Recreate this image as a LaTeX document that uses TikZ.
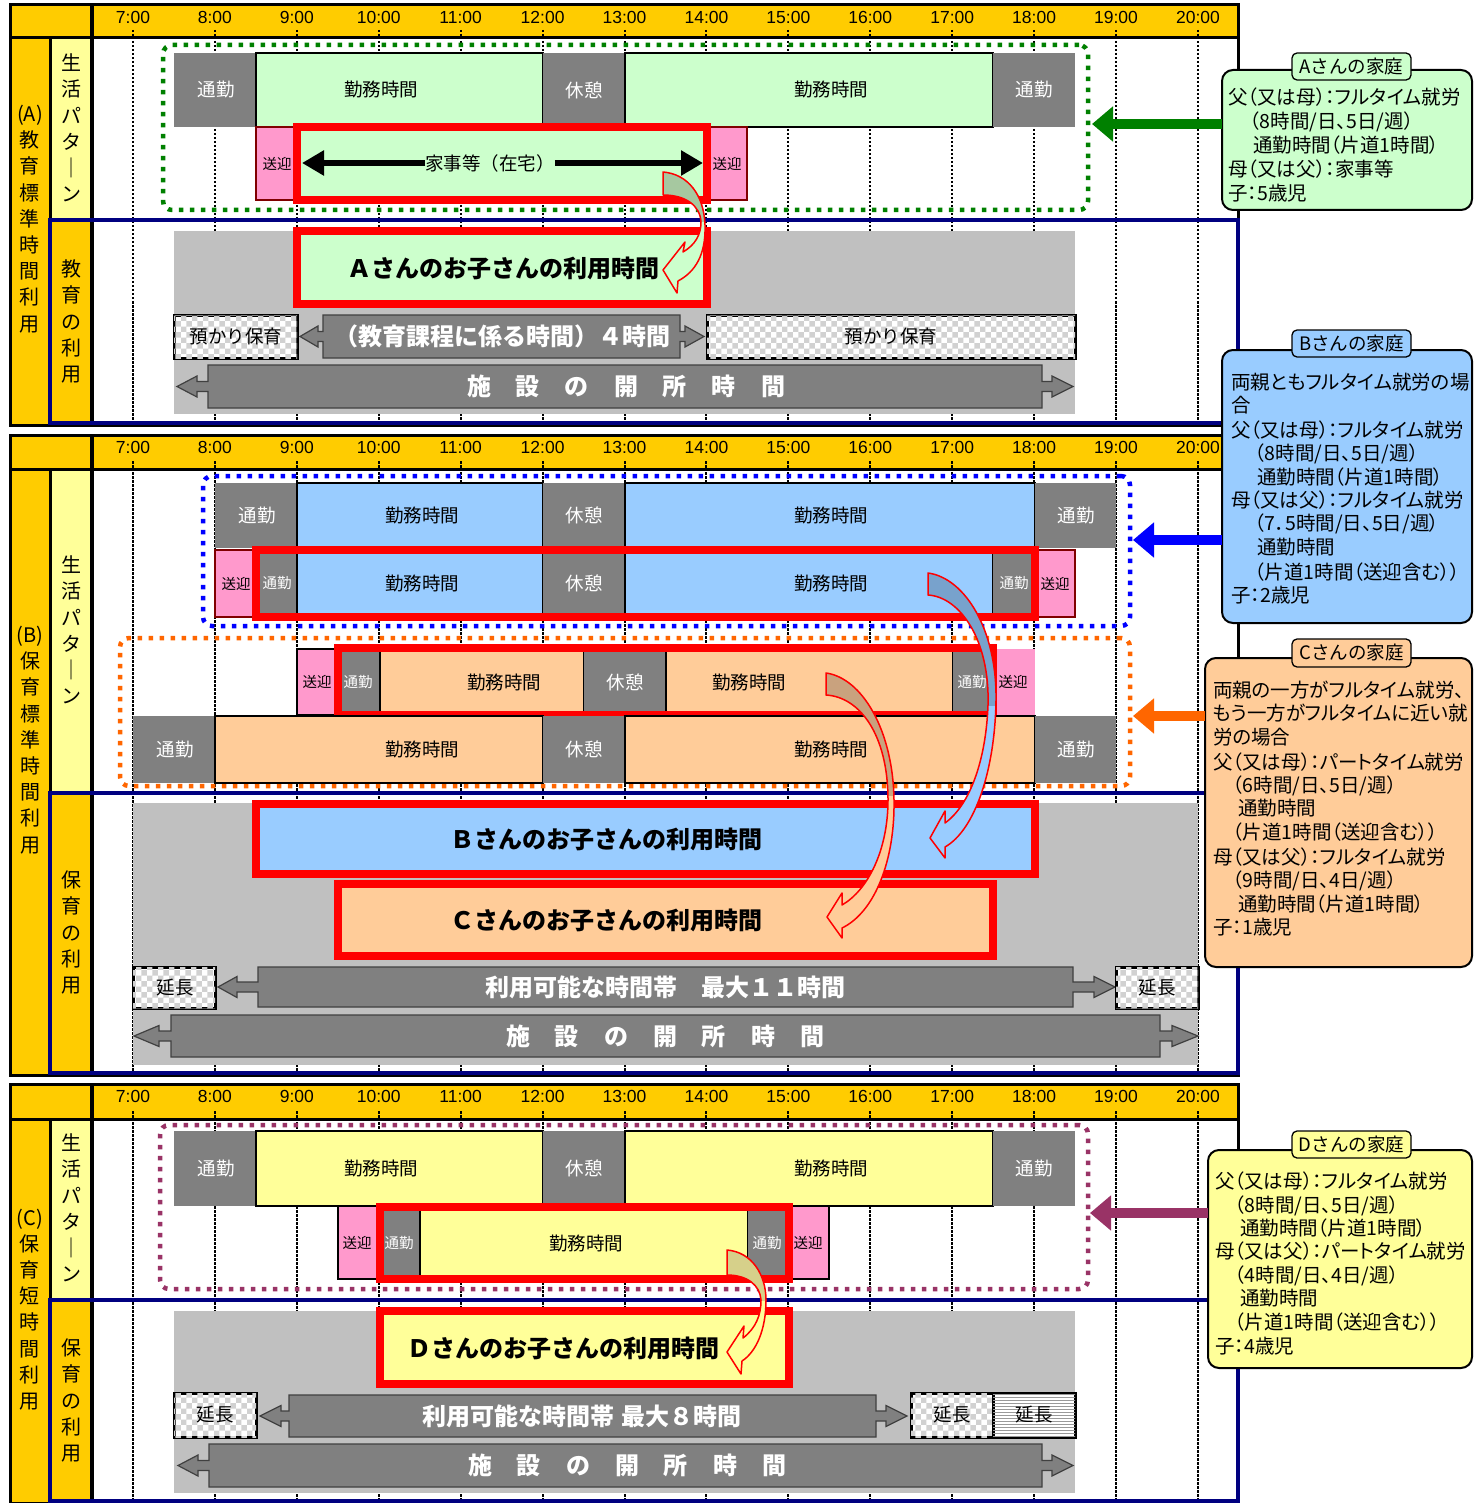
\documentclass[tikz,border=0pt]{standalone}
\usepackage{fontspec}
\setmainfont{Noto Sans CJK JP}
\newfontfamily\jpp{Noto Sans CJK JP}[RawFeature=+palt]
\newfontfamily\lat{Liberation Sans}
\usetikzlibrary{arrows.meta,patterns}
\newcommand\fsz[1]{\fontsize{#1}{#1}\selectfont}
\newcommand\gp{\hspace{25pt}}
\definecolor{hdr}{HTML}{FFCC00}
\definecolor{lyel}{HTML}{FFFF99}
\definecolor{gbx}{HTML}{808080}
\definecolor{lgrn}{HTML}{CCFFCC}
\definecolor{lblu}{HTML}{99CCFF}
\definecolor{lorg}{HTML}{FFCC99}
\definecolor{pnk}{HTML}{FF99CC}
\definecolor{dred}{HTML}{800000}
\definecolor{bgg}{HTML}{C0C0C0}
\definecolor{navy}{HTML}{000080}
\definecolor{rred}{HTML}{FF0000}
\definecolor{dgrn}{HTML}{008000}
\definecolor{bblu}{HTML}{0000FF}
\definecolor{oorg}{HTML}{FF6600}
\definecolor{purp}{HTML}{993366}
\definecolor{backA}{HTML}{A6C8A0}
\definecolor{backB}{HTML}{78A2CC}
\definecolor{backC}{HTML}{C9A27E}
\definecolor{backD}{HTML}{D6D08A}
\tikzset{
 every node/.style={inner sep=0pt, outer sep=0pt},
 gb/.style={fill=gbx},
 kb/.style={draw=black, line width=2.5pt},
 sb/.style={fill=pnk, draw=dred, line width=2.5pt},
 rf/.style={draw=rred, line width=8pt},
 ck/.style={fill=white, draw=black, line width=3pt, postaction={pattern=checkerboard, pattern color=black!18}},
 hl/.style={fill=white, draw=black, line width=3pt, postaction={pattern=horizontal lines, pattern color=black!40}},
 wt/.style={text=white, font=\fsz{18.5}},
 bt/.style={text=black, font=\fsz{18.5}},
 swt/.style={text=white, font=\fsz{14.5}},
 sbt/.style={text=black, font=\fsz{14.5}},
 big/.style={font=\bfseries\fsz{24}},
 arrt/.style={text=white, font=\bfseries\fsz{24}},
 tl/.style={font=\lat\fsz{17.5}},
 vt/.style={align=center, font=\fontsize{20}{26.2}\selectfont},
 vdot/.style={line width=2pt, dash pattern=on 2.5pt off 1.5pt},
 dfr/.style={line width=4.5pt, dash pattern=on 4.5pt off 6.5pt, rounded corners=9pt},
 garr/.style={fill=gbx, draw=black!75, line width=1.2pt},
 harr/.style={line width=6pt, -{Triangle[length=22pt,width=24pt]}},
 fat/.style={line width=10pt, -{Triangle[length=21pt,width=34pt]}},
 fam/.style={draw=black, line width=2pt, rounded corners=11pt},
 famh/.style={draw=black, line width=1.3pt, rounded corners=5pt},
 tt/.style={font=\fsz{18.5}},
 famt/.style={font=\jpp\fsz{19.5}},
}
\newcommand\bx[6]{\node[#2,anchor=north west,minimum width={(#5)-(#3)},minimum height={(#6)-(#4)}] (#1) at (#3,#4) {};}
\newcommand\tb[9]{\bx{#1}{#2}{#4}{#5}{#6}{#7}\node[#3] (#1t) at (#8,{((#5)+(#7))/2}) {#9};}
\newcommand\fl[4]{\node[famt, anchor=base west] (#1) at (#2,{#3+7.2}) {#4};}
\newcommand\garrow[8]{\draw[garr] (#3,{#7-#8}) -- (#4,{#7-#8}) -- (#4,{#7-5}) -- (#5,{#7-5}) -- (#5,{#7-10.5}) -- (#6,#7) -- (#5,{#7+10.5}) -- (#5,{#7+5}) -- (#4,{#7+5}) -- (#4,{#7+#8}) -- (#3,{#7+#8}) -- (#3,{#7+5}) -- (#2,{#7+5}) -- (#2,{#7+10.5}) -- (#1,#7) -- (#2,{#7-10.5}) -- (#2,{#7-5}) -- (#3,{#7-5}) -- cycle;}
\newcommand\carrow[4]{\fill[#1] #4;
 \begin{scope}\clip (0,0) rectangle (1474,#3); \fill[#2] #4; \end{scope}
 \draw[rred, line width=1.5pt, line join=round] #4;}
\newcommand\secframe[5]{%
 \fill[hdr] (10,#2) rectangle (1238,#3);
 \fill[white] (92,#3) rectangle (1238,#5);
 \fill[hdr] (10,#3) rectangle (50,#5);
 \fill[lyel] (50,#3) rectangle (92,#4);
 \fill[hdr] (50,#4) rectangle (92,#5);
 \foreach \h in {7,...,20}{
   \node[tl] (#1t\h) at ({133+(\h-7)*81.92},{#2+12}) {\h:00};
   \draw[vdot] ({133+(\h-7)*81.92},{#3-8}) -- ({133+(\h-7)*81.92},#3);
   \draw[vdot] ({133+(\h-7)*81.92},{#3+3}) -- ({133+(\h-7)*81.92},#5);
 }
 \draw[line width=3pt] (10,#2) rectangle (1238,#5);
 \draw[line width=3pt] (10,#3) -- (1238,#3);
 \draw[line width=3pt] (50,#3) -- (50,#5);
 \draw[line width=3.5pt] (92,#2) -- (92,#5);
 \draw[navy, line width=4.5pt] (50,#4) rectangle (1238,{#5-2});
}
\begin{document}
\begin{tikzpicture}[x=1pt,y=-1pt]
\useasboundingbox (0,0) rectangle (1474,1503);
\fill[white] (0,0) rectangle (1474,1503);
\secframe{A}{5}{38}{220}{425}
\secframe{B}{435}{469}{793}{1075}
\secframe{C}{1084}{1119}{1300}{1503}
% left column labels
\node[vt] (lA1) at (30,219) {(A)\\教\\育\\標\\準\\時\\間\\利\\用};
\node[vt] (lA2) at (71,128) {生\\活\\パ\\タ\\｜\\ン};
\node[vt] (lA3) at (71,321.5) {教\\育\\の\\利\\用};
\node[vt] (lB1) at (30,740) {(B)\\保\\育\\標\\準\\時\\間\\利\\用};
\node[vt] (lB2) at (71,630) {生\\活\\パ\\タ\\｜\\ン};
\node[vt] (lB3) at (71,932.5) {保\\育\\の\\利\\用};
\node[vt] (lC1) at (30,1309.5) {(C)\\保\\育\\短\\時\\間\\利\\用};
\node[vt] (lC2) at (71,1208) {生\\活\\パ\\タ\\｜\\ン};
\node[vt] (lC3) at (71,1400.5) {保\\育\\の\\利\\用};
% dotted frames
\bx{frA}{dfr,draw=dgrn}{163}{45}{1088}{210}
\bx{frB}{dfr,draw=bblu}{203}{476}{1130}{626}
\bx{frC}{dfr,draw=oorg}{120}{638}{1130}{786}
\bx{frD}{dfr,draw=purp}{160}{1125}{1088}{1289}
% ===== A =====
\tb{a1}{gb}{wt}{174}{53}{256}{127}{216}{通勤}
\tb{a2}{kb,fill=lgrn}{bt}{256}{53}{543}{127}{381}{勤務時間}
\tb{a3}{gb}{wt}{543}{53}{625}{127}{584}{休憩}
\tb{a4}{kb,fill=lgrn}{bt}{625}{53}{993}{127}{831}{勤務時間}
\tb{a5}{gb}{wt}{993}{53}{1075}{127}{1034}{通勤}
\tb{a6}{sb}{sbt}{256}{127}{297}{200}{277}{送迎}
\bx{a7}{fill=lgrn}{297}{127}{707}{200}
\tb{a8}{sb}{sbt}{707}{127}{747}{200}{727}{送迎}
\bx{a7r}{rf}{297}{127}{707}{200}
\node[bt] (a7t) at (490,163) {家事等（在宅）};
\draw[harr] (a7t.west) -- (302,163);
\draw[harr] (a7t.east) -- (703,163);
\bx{abg}{fill=bgg}{174}{231}{1075}{414}
\bx{akid}{fill=lgrn}{297}{231}{707}{304}
\bx{akidr}{rf}{297}{231}{707}{304}
\node[big] (akidt) at (503,268) {Ａさんのお子さんの利用時間};
\tb{aaz1}{ck}{bt}{174}{315}{297}{358}{236}{預かり保育}
\garrow{300}{318}{323}{680}{685}{704}{336.5}{21.5}
\node[arrt] (akyo) at (502,336) {（教育課程に係る時間）４時間};
\tb{aaz2}{ck}{bt}{707}{315}{1075}{358}{891}{預かり保育}
\garrow{177}{197}{208}{1042}{1052}{1073}{386.5}{21.5}
\node[arrt] (ashi) at (626,386) {施\gp 設\gp の\gp 開\gp 所\gp 時\gp 間};
% ===== B =====
\tb{b1}{gb}{wt}{215}{483}{297}{548}{257}{通勤}
\tb{b2}{kb,fill=lblu}{bt}{297}{483}{543}{548}{422}{勤務時間}
\tb{b3}{gb}{wt}{543}{483}{625}{548}{584}{休憩}
\tb{b4}{kb,fill=lblu}{bt}{625}{483}{1035}{548}{831}{勤務時間}
\tb{b5}{gb}{wt}{1035}{483}{1116}{548}{1076}{通勤}
\tb{b6}{sb}{sbt}{215}{550}{256}{617}{236}{送迎}
\tb{b7}{gb}{swt}{256}{550}{297}{617}{277}{通勤}
\tb{b8}{kb,fill=lblu}{bt}{297}{550}{543}{617}{422}{勤務時間}
\tb{b9}{gb}{wt}{543}{550}{625}{617}{584}{休憩}
\tb{b10}{kb,fill=lblu}{bt}{625}{550}{993}{617}{831}{勤務時間}
\tb{b11}{gb}{swt}{993}{550}{1035}{617}{1014}{通勤}
\tb{b12}{sb}{sbt}{1035}{550}{1075}{617}{1055}{送迎}
\bx{b2r}{rf}{256}{550}{1035}{617}
\tb{b13}{fill=pnk,draw=black,line width=2pt}{sbt}{297}{649}{338}{715}{317}{送迎}
\tb{b14}{gb}{swt}{338}{649}{380}{715}{358}{通勤}
\tb{b15}{kb,fill=lorg}{bt}{380}{649}{584}{715}{504}{勤務時間}
\tb{b16}{gb}{wt}{584}{649}{666}{715}{625}{休憩}
\tb{b17}{kb,fill=lorg}{bt}{666}{649}{953}{715}{749}{勤務時間}
\tb{b18}{gb}{swt}{953}{649}{993}{715}{972}{通勤}
\tb{b19}{fill=pnk}{sbt}{993}{649}{1035}{715}{1013}{送迎}
\bx{b3r}{rf}{338}{648}{993}{715}
\tb{b20}{gb}{wt}{133}{716}{215}{783}{175}{通勤}
\tb{b21}{kb,fill=lorg}{bt}{215}{716}{543}{783}{422}{勤務時間}
\tb{b22}{gb}{wt}{543}{716}{625}{783}{584}{休憩}
\tb{b23}{kb,fill=lorg}{bt}{625}{716}{1035}{783}{831}{勤務時間}
\tb{b24}{gb}{wt}{1035}{716}{1116}{783}{1076}{通勤}
\bx{bbg}{fill=bgg}{133}{803}{1198}{1065}
\bx{bkid}{fill=lblu}{256}{804}{1035}{874}
\bx{bkidr}{rf}{256}{804}{1035}{874}
\node[big] (bkidt) at (606,839) {Ｂさんのお子さんの利用時間};
\bx{ckid}{fill=lorg}{338}{884}{993}{956}
\bx{ckidr}{rf}{338}{884}{993}{956}
\node[big] (ckidt) at (606,920) {Ｃさんのお子さんの利用時間};
\tb{bez1}{ck}{bt}{133}{967}{215}{1008}{175}{延長}
\garrow{218}{237}{258}{1073}{1094}{1115}{987}{20}
\node[arrt] (briyo) at (665,987) {利用可能な時間帯　最大１１時間};
\tb{bez2}{ck}{bt}{1116}{967}{1198}{1008}{1157}{延長}
\garrow{134}{159}{171}{1160}{1172}{1198}{1036}{21}
\node[arrt] (bshi) at (665,1036) {施\gp 設\gp の\gp 開\gp 所\gp 時\gp 間};
% ===== C =====
\tb{c1}{gb}{wt}{174}{1131}{256}{1206}{216}{通勤}
\tb{c2}{kb,fill=lyel}{bt}{256}{1131}{543}{1206}{381}{勤務時間}
\tb{c3}{gb}{wt}{543}{1131}{625}{1206}{584}{休憩}
\tb{c4}{kb,fill=lyel}{bt}{625}{1131}{993}{1206}{831}{勤務時間}
\tb{c5}{gb}{wt}{993}{1131}{1075}{1206}{1034}{通勤}
\tb{c6}{fill=pnk,draw=black,line width=2.5pt}{sbt}{338}{1206}{380}{1279}{357}{送迎}
\tb{c7}{gb}{swt}{380}{1207}{420}{1279}{399}{通勤}
\tb{c8}{kb,fill=lyel}{bt}{420}{1207}{748}{1279}{586}{勤務時間}
\tb{c9}{gb}{swt}{748}{1207}{789}{1279}{767}{通勤}
\tb{c10}{fill=pnk,draw=black,line width=2.5pt}{sbt}{789}{1206}{829}{1279}{808}{送迎}
\bx{c2r}{rf}{380}{1207}{789}{1279}
\bx{cbg}{fill=bgg}{174}{1311}{1075}{1493}
\bx{dkid}{fill=lyel}{380}{1311}{789}{1384}
\bx{dkidr}{rf}{380}{1311}{789}{1384}
\node[big] (dkidt) at (563,1348) {Ｄさんのお子さんの利用時間};
\tb{cez1}{ck}{bt}{174}{1393}{256}{1437}{215}{延長}
\garrow{260}{281}{289}{876}{886}{907}{1416}{21}
\node[arrt] (criyo) at (582,1416) {利用可能な時間帯\hspace{8pt}最大８時間};
\tb{cez2}{ck}{bt}{911}{1393}{993}{1437}{952}{延長}
\tb{cez3}{hl}{bt}{993}{1393}{1075}{1437}{1034}{延長}
\garrow{178}{198}{209}{1042}{1052}{1073}{1465.5}{21.5}
\node[arrt] (cshi) at (627,1465) {施\gp 設\gp の\gp 開\gp 所\gp 時\gp 間};
% ===== curved arrows =====
\carrow{lgrn}{backA}{222}{(663,172) .. controls (688,174) and (704,195) .. (705,225) .. controls (706,255) and (695,272) .. (678,281) -- (677,293) -- (663,270) -- (685,242) -- (683,252) .. controls (695,245) and (701,235) .. (701,222) .. controls (700,205) and (685,195) .. (663,195) -- cycle}
\carrow{lblu}{backB}{705}{(928,573) .. controls (965,578) and (997,630) .. (996,700) .. controls (995,770) and (975,830) .. (945,847) -- (945,858) -- (930,838) -- (945,811) -- (945,823) .. controls (970,805) and (986,760) .. (988,705) .. controls (990,640) and (960,597) .. (928,595) -- cycle}
\carrow{lorg}{backC}{795}{(826,673) .. controls (862,678) and (893,730) .. (894,800) .. controls (895,860) and (875,912) .. (842,928) -- (842,938) -- (827,917) -- (842,893) -- (842,905) .. controls (868,890) and (888,850) .. (888,800) .. controls (888,735) and (860,697) .. (826,695) -- cycle}
\carrow{lyel}{backD}{1300}{(727,1250) .. controls (752,1252) and (766,1275) .. (766,1300) .. controls (766,1330) and (756,1352) .. (742,1361) -- (741,1374) -- (727,1352) -- (744,1326) -- (743,1338) .. controls (756,1328) and (761,1315) .. (761,1300) .. controls (760,1285) and (747,1275) .. (727,1275) -- cycle}
% ===== family boxes =====
\coordinate (pA) at (1092,124);
\coordinate (pB) at (1133,540);
\coordinate (pC) at (1133,716);
\coordinate (pD) at (1090,1213);
\bx{famA}{fam,fill=lgrn}{1222}{70}{1472}{210}
\bx{famB}{fam,fill=lblu}{1222}{350}{1472}{623}
\bx{famC}{fam,fill=lorg}{1205}{658}{1472}{967}
\bx{famD}{fam,fill=lyel}{1208}{1150}{1472}{1368}
\draw[fat, dgrn] (famA.west |- pA) -- (pA);
\draw[fat, bblu] (famB.west |- pB) -- (pB);
\draw[fat, oorg] (famC.west |- pC) -- (pC);
\draw[fat, purp] (famD.west |- pD) -- (pD);
\tb{famAh}{famh,fill=lgrn}{tt}{1292}{53}{1411}{80}{1351.5}{Aさんの家庭}
\tb{famBh}{famh,fill=lblu}{tt}{1292}{330}{1411}{357}{1351.5}{Bさんの家庭}
\tb{famCh}{famh,fill=lorg}{tt}{1292}{639}{1411}{667}{1351.5}{Cさんの家庭}
\tb{famDh}{famh,fill=lyel}{tt}{1292}{1131}{1411}{1158}{1351.5}{Dさんの家庭}
\fl{fa1}{1228}{97}{父（又は母）：フルタイム就労}
\fl{fa2}{1250}{121}{（8時間/日、5日/週）}
\fl{fa3}{1253}{145}{通勤時間（片道1時間）}
\fl{fa4}{1228}{169}{母（又は父）：家事等}
\fl{fa5}{1228}{193}{子：5歳児}
\fl{fb1}{1231}{382}{両親ともフルタイム就労の場}
\fl{fb2}{1231}{405}{合}
\fl{fb3}{1231}{430}{父（又は母）：フルタイム就労}
\fl{fb4}{1255}{453}{（8時間/日、5日/週）}
\fl{fb5}{1257}{477}{通勤時間（片道1時間）}
\fl{fb6}{1231}{500}{母（又は父）：フルタイム就労}
\fl{fb7}{1255}{523}{（7．5時間/日、5日/週）}
\fl{fb8}{1257}{547}{通勤時間}
\fl{fb9}{1255}{572}{（片道1時間（送迎含む））}
\fl{fb10}{1231}{595}{子：2歳児}
\fl{fc1}{1213}{690}{両親の一方がフルタイム就労、}
\fl{fc2}{1213}{713}{もう一方がフルタイムに近い就}
\fl{fc3}{1213}{737}{労の場合}
\fl{fc4}{1213}{762}{父（又は母）：パートタイム就労}
\fl{fc5}{1233}{785}{（6時間/日、5日/週）}
\fl{fc6}{1238}{808}{通勤時間}
\fl{fc7}{1233}{832}{（片道1時間（送迎含む））}
\fl{fc8}{1213}{857}{母（又は父）：フルタイム就労}
\fl{fc9}{1233}{880}{（9時間/日、4日/週）}
\fl{fc10}{1238}{904}{通勤時間（片道1時間）}
\fl{fc11}{1213}{927}{子：1歳児}
\fl{fd1}{1215}{1181}{父（又は母）：フルタイム就労}
\fl{fd2}{1235}{1205}{（8時間/日、5日/週）}
\fl{fd3}{1240}{1228}{通勤時間（片道1時間）}
\fl{fd4}{1215}{1251}{母（又は父）：パートタイム就労}
\fl{fd5}{1235}{1275}{（4時間/日、4日/週）}
\fl{fd6}{1240}{1298}{通勤時間}
\fl{fd7}{1235}{1322}{（片道1時間（送迎含む））}
\fl{fd8}{1215}{1346}{子：4歳児}
\end{tikzpicture}
\end{document}
